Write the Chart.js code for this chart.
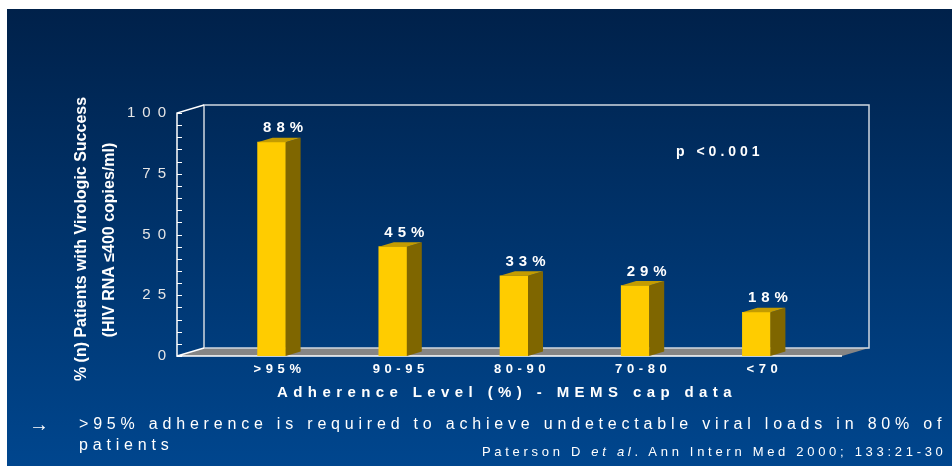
<!DOCTYPE html>
<html>
<head>
<meta charset="utf-8">
<script src="https://cdn.jsdelivr.net/npm/chart.js@4.4.1/dist/chart.umd.min.js"></script>
<style>
body { margin: 0; background: #fff; width: 952px; height: 466px; overflow: hidden; position: relative; font-family: 'Liberation Sans', Arial, sans-serif; }
#slide { position: absolute; left: 7px; top: 9px; width: 945px; height: 457px; background: linear-gradient(#00214a, #00468e); }
#chart { position: absolute; left: 0; top: 0; }
.note { position: absolute; color: #fff; white-space: nowrap; }
</style>
</head>
<body>
<div id="slide"></div>
<canvas id="chart" width="952" height="466"></canvas>
<div class="note" style="left:29px; top:414px; font-size:20px; line-height:20px;">&rarr;</div>
<div class="note" style="left:79px; top:416px; font-size:16px; line-height:16px; letter-spacing:4.8px;">&gt;95% adherence is required to achieve undetectable viral loads in 80% of</div>
<div class="note" style="left:79px; top:437px; font-size:16px; line-height:16px; letter-spacing:4.8px;">patients</div>
<div class="note" style="left:482px; top:445px; font-size:13px; line-height:13px; letter-spacing:3.7px;">Paterson D <i>et al</i>. Ann Intern Med 2000; 133:21-30</div>
<script>
const categories = ['>95%', '90-95', '80-90', '70-80', '<70'];
const successRates = [88, 45, 33, 29, 18];
const yTicks = [0, 25, 50, 75, 100];

const FONT = "'Liberation Sans', Arial, sans-serif";
Chart.defaults.font.family = FONT;

// depth of the back wall and of each bar
const DX = 27, DY = -8;
const BAR_DX = 15, BAR_DY = -4.5;

// letter spaced tick labels, like the slide
function spacedLabels(scale, spacing) {
  scale.drawLabels = function (area) {
    this.ctx.save();
    this.ctx.letterSpacing = spacing;
    Chart.Scale.prototype.drawLabels.call(this, area);
    this.ctx.restore();
  };
}

const frame3d = {
  id: 'frame3d',
  beforeDatasetsDraw(chart) {
    const {ctx, chartArea: a, scales: {y}} = chart;
    const fl = a.left - 34, fr = a.right + 25;
    const y0 = y.getPixelForValue(0), y100 = y.getPixelForValue(100);
    ctx.save();
    // floor
    ctx.fillStyle = '#858585';
    ctx.beginPath();
    ctx.moveTo(fl, y0);
    ctx.lineTo(fr, y0);
    ctx.lineTo(fr + DX, y0 + DY);
    ctx.lineTo(fl + DX, y0 + DY);
    ctx.closePath();
    ctx.fill();
    // back wall
    ctx.strokeStyle = '#d0d7e0';
    ctx.lineWidth = 1.5;
    ctx.strokeRect(fl + DX, y100 + DY, fr - fl, y0 - y100);
    // front axis and edges
    ctx.strokeStyle = '#ffffff';
    ctx.beginPath();
    ctx.moveTo(fl + DX, y100 + DY);
    ctx.lineTo(fl, y100);
    ctx.lineTo(fl, y0);
    ctx.lineTo(fl + DX, y0 + DY);
    ctx.moveTo(fl, y0);
    ctx.lineTo(fr, y0);
    ctx.stroke();
    // minor ticks
    ctx.lineWidth = 1;
    ctx.beginPath();
    for (let v = 0; v <= 100; v += 5) {
      const py = Math.round(y.getPixelForValue(v)) + 0.5;
      ctx.moveTo(fl, py);
      ctx.lineTo(fl + 5, py);
    }
    ctx.stroke();
    ctx.restore();
  },
  afterDatasetsDraw(chart) {
    const {ctx} = chart;
    const meta = chart.getDatasetMeta(0);
    ctx.save();
    meta.data.forEach((bar, i) => {
      const {x, y, base, width} = bar.getProps(['x', 'y', 'base', 'width'], true);
      const l = x - width / 2, r = x + width / 2;
      ctx.fillStyle = '#7f6600';
      ctx.beginPath();
      ctx.moveTo(r, y);
      ctx.lineTo(r + BAR_DX, y + BAR_DY);
      ctx.lineTo(r + BAR_DX, base + BAR_DY);
      ctx.lineTo(r, base);
      ctx.closePath();
      ctx.fill();
      ctx.fillStyle = '#c49c00';
      ctx.beginPath();
      ctx.moveTo(l, y);
      ctx.lineTo(r, y);
      ctx.lineTo(r + BAR_DX, y + BAR_DY);
      ctx.lineTo(l + BAR_DX, y + BAR_DY);
      ctx.closePath();
      ctx.fill();

      ctx.fillStyle = '#ffffff';
      ctx.font = 'bold 15px ' + FONT;
      ctx.letterSpacing = '5px';
      ctx.textAlign = 'center';
      ctx.textBaseline = 'middle';
      ctx.fillText(successRates[i] + '%', x + 14, y - 14);
    });
    ctx.restore();
  },
  afterDraw(chart) {
    const {ctx} = chart;
    ctx.save();
    ctx.fillStyle = '#ffffff';
    ctx.textBaseline = 'middle';

    ctx.font = 'bold 14px ' + FONT;
    ctx.letterSpacing = '4px';
    ctx.textAlign = 'left';
    ctx.fillText('p <0.001', 676, 152);

    ctx.font = 'bold 15px ' + FONT;
    ctx.letterSpacing = '5.4px';
    ctx.textAlign = 'center';
    ctx.fillText('Adherence Level (%) - MEMS cap data', 507, 393);

    ctx.font = 'bold 16px ' + FONT;
    ctx.letterSpacing = '0px';
    ctx.save();
    ctx.translate(82, 239);
    ctx.rotate(-Math.PI / 2);
    ctx.fillText('% (n) Patients with Virologic Success', 0, 0);
    ctx.restore();
    ctx.translate(110, 240);
    ctx.rotate(-Math.PI / 2);
    ctx.fillText('(HIV RNA \u2264400 copies/ml)', 0, 0);
    ctx.restore();
  }
};

new Chart(document.getElementById('chart'), {
  type: 'bar',
  data: {
    labels: categories,
    datasets: [{
      data: successRates,
      backgroundColor: '#ffcc00',
      borderWidth: 0,
      barThickness: 28
    }]
  },
  options: {
    responsive: false,
    animation: false,
    layout: { padding: { top: 113, right: 135 } },
    plugins: { legend: { display: false }, tooltip: { enabled: false } },
    scales: {
      x: {
        grid: { display: false, drawTicks: false },
        border: { display: false },
        ticks: { color: '#ffffff', font: { size: 13, weight: 'bold' }, padding: 6, labelOffset: 8 },
        afterFit: (scale) => { scale.height = 110; spacedLabels(scale, '4.6px'); }
      },
      y: {
        min: 0,
        max: 100,
        grid: { display: false, drawTicks: false },
        border: { display: false },
        afterBuildTicks: (scale) => { scale.ticks = yTicks.map(v => ({ value: v })); },
        ticks: { color: '#e6e6e6', font: { size: 15 }, padding: 38 },
        afterFit: (scale) => { scale.width = 211; spacedLabels(scale, '7px'); }
      }
    }
  },
  plugins: [frame3d]
});
</script>
</body>
</html>
